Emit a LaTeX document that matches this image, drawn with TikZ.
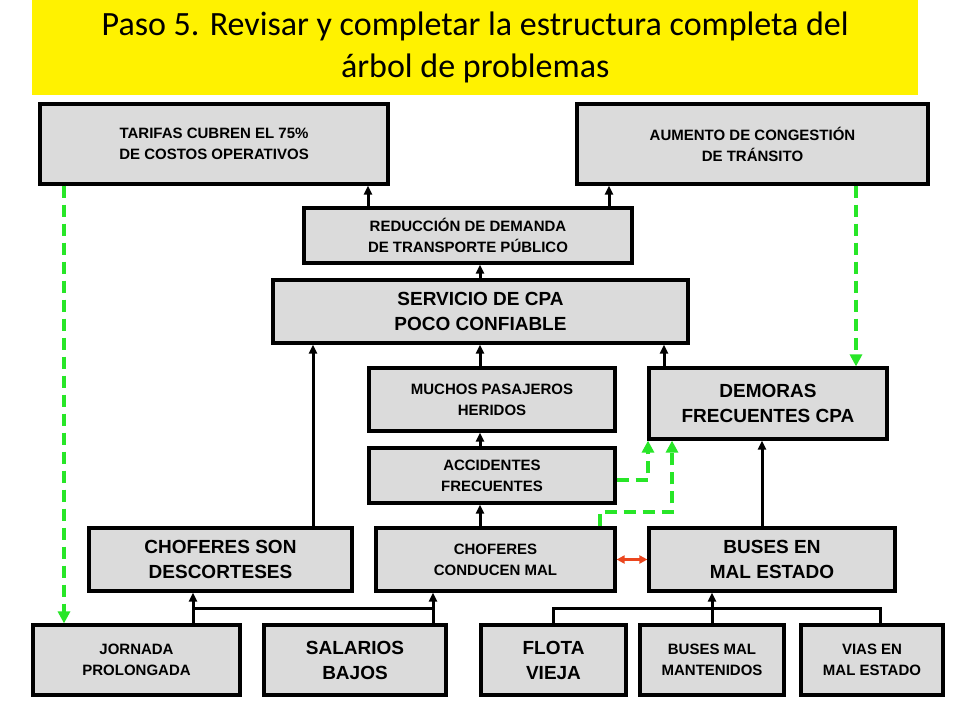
\documentclass[tikz,border=0pt]{standalone}
\usepackage{fontspec}
\setmainfont{Liberation Sans}
\newfontfamily\titlefont{Carlito}
\usetikzlibrary{arrows.meta}
\definecolor{grn}{RGB}{40,230,40}
\definecolor{redd}{RGB}{235,70,30}
\begin{document}
\begin{tikzpicture}[x=1pt,y=-1pt,
  bx/.style={draw=black,line width=3.2pt,fill=gray!28,align=center,font=\bfseries},
  sm/.style={font=\bfseries\fontsize{15}{21}\selectfont},
  bg/.style={font=\bfseries\fontsize{19}{25}\selectfont},
  ar/.style={line width=3pt,-{Triangle[length=9pt,width=8pt]}},
  ln/.style={line width=3pt},
  gr/.style={draw=grn,line width=3.5pt,dash pattern=on 12pt off 7pt,-{Triangle[length=12pt,width=12pt]}}]
\useasboundingbox (0,0) rectangle (960,720);
\fill[white] (0,0) rectangle (960,720);
\node[fill=yellow,minimum width=886pt,minimum height=95pt,anchor=north west,inner sep=0,align=center,font=\titlefont\fontsize{34}{42}\selectfont] (title) at (32,0) {Paso 5. Revisar y completar la estructura completa del\\ árbol de problemas};
\newcommand\bxn[6]{\node[bx,#6,minimum width=#3-#2,minimum height=#5-#4,inner sep=0] (#1) at ({(#2+#3)/2},{(#4+#5)/2})}
\bxn{t1}{40}{388}{104}{184}{sm} {TARIFAS CUBREN EL 75\%\\DE COSTOS OPERATIVOS};
\bxn{t2}{577}{928}{104}{184}{sm} {AUMENTO DE CONGESTIÓN\\DE TRÁNSITO};
\bxn{r}{304}{632}{208}{263}{sm} {REDUCCIÓN DE DEMANDA\\DE TRANSPORTE PÚBLICO};
\bxn{s}{273}{688}{280}{343}{bg} {SERVICIO DE CPA\\POCO CONFIABLE};
\bxn{m}{369}{615}{368}{431}{sm} {MUCHOS PASAJEROS\\HERIDOS};
\bxn{d}{649}{887}{368}{439}{bg} {DEMORAS\\FRECUENTES CPA};
\bxn{a}{369}{615}{448}{503}{sm} {ACCIDENTES\\FRECUENTES};
\bxn{cs}{89}{352}{528}{591}{bg} {CHOFERES SON\\DESCORTESES};
\bxn{cc}{376}{615}{528}{591}{sm} {CHOFERES\\CONDUCEN MAL};
\bxn{be}{649}{895}{528}{591}{bg} {BUSES EN\\MAL ESTADO};
\bxn{j}{33}{240}{625}{695}{sm} {JORNADA\\PROLONGADA};
\bxn{sb}{264}{446}{625}{695}{bg} {SALARIOS\\BAJOS};
\bxn{fv}{481}{626}{625}{695}{bg} {FLOTA\\VIEJA};
\bxn{bm}{640}{784}{625}{695}{sm} {BUSES MAL\\MANTENIDOS};
\bxn{ve}{801}{943}{625}{695}{sm} {VIAS EN\\MAL ESTADO};
% arrows
\draw[ar] (r.north -| 368,0) -- (t1.south -| 368,0);
\draw[ar] (r.north -| 609,0) -- (t2.south -| 609,0);
\draw[ar] (s.north -| 480,0) -- (r.south -| 480,0);
\draw[ar] (m.north -| 480,0) -- (s.south -| 480,0);
\draw[ar] (cs.north -| 313,0) -- (s.south -| 313,0);
\draw[ar] (d.north -| 664,0) -- (s.south -| 664,0);
\draw[ar] (a.north -| 480,0) -- (m.south -| 480,0);
\draw[ar] (cc.north -| 480,0) -- (a.south -| 480,0);
\draw[ar] (be.north -| 762,0) -- (d.south -| 762,0);
\draw[ar] (j.north -| 193,0) -- (cs.south -| 193,0);
\draw[ar] (sb.north -| 433,0) -- (cc.south -| 433,0);
\draw[ln] (193,608) -- (433,608);
\draw[ln] (fv.north -| 553,0) |- (880,608) -- (ve.north -| 880,0);
\draw[ar] (bm.north -| 712,0) -- (be.south -| 712,0);
% green
\draw[gr] (t1.south -| 64,0) -- (j.north -| 64,0);
\draw[gr] (t2.south -| 856,0) -- (d.north -| 856,0);
\draw[gr] (a.east |- 0,480) -- (648,480) -- (d.south -| 648,0);
\draw[gr] (cc.north -| 600,0) -- (600,512) -- (672,512) -- (d.south -| 672,0);
% red
\draw[draw=redd,line width=2.5pt,{Triangle[length=8pt,width=8pt,fill=redd]}-{Triangle[length=8pt,width=8pt,fill=redd]}] (cc.east) -- (be.west);
\end{tikzpicture}
\end{document}
